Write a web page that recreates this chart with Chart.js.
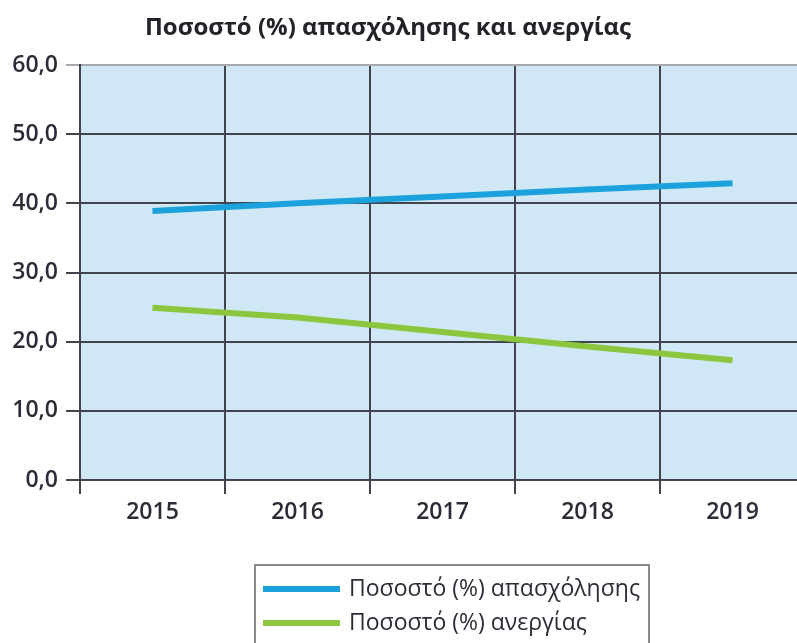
<!DOCTYPE html>
<html>
<head>
<meta charset="utf-8">
<script src="https://cdn.jsdelivr.net/npm/chart.js@4"></script>
<style>
  html, body { margin: 0; padding: 0; background: #fff; overflow: hidden; }
  #wrap { width: 806px; height: 643px; }
</style>
</head>
<body>
<div id="wrap"><canvas id="chart"></canvas></div>
<script>
const years = ["2015", "2016", "2017", "2018", "2019"]
const employment = [38.9, 40.0, 41.0, 42.0, 42.9]
const unemployment = [24.9, 23.5, 21.4, 19.3, 17.3]
const titleText = "Ποσοστό (%) απασχόλησης και ανεργίας"
const seriesLabels = ["Ποσοστό (%) απασχόλησης", "Ποσοστό (%) ανεργίας"]

const textColor = '#2b2c37'
const gridColor = '#41444c'
const fontFamily = "'Open Sans', 'Noto Sans', sans-serif"

// light blue plot background
const plotBg = {
    id: 'plotBg',
    beforeDraw(chart) {
        const a = chart.chartArea
        const ctx = chart.ctx
        ctx.save()
        ctx.fillStyle = '#d0e8f6'
        ctx.fillRect(a.left, a.top, a.right - a.left, a.bottom - a.top)
        ctx.restore()
    }
}

// title + boxed legend drawn by hand
const extras = {
    id: 'extras',
    afterDraw(chart) {
        const ctx = chart.ctx
        ctx.save()
        ctx.fillStyle = '#222229'
        ctx.font = "bold 24px " + fontFamily
        ctx.textAlign = 'center'
        ctx.textBaseline = 'middle'
        ctx.fillText(titleText, 388, 28)

        ctx.strokeStyle = '#8a8a8a'
        ctx.lineWidth = 2
        ctx.strokeRect(255, 565, 394, 100)

        ctx.font = "23px " + fontFamily
        ctx.textAlign = 'left'
        chart.data.datasets.forEach((ds, i) => {
            const y = 589 + i * 34
            ctx.strokeStyle = ds.borderColor
            ctx.lineWidth = 6
            ctx.beginPath()
            ctx.moveTo(263, y)
            ctx.lineTo(340, y)
            ctx.stroke()
            ctx.fillStyle = textColor
            ctx.fillText(ds.label, 349, y)
        })
        ctx.restore()
    }
}

new Chart(document.getElementById('chart'), {
    type: 'line',
    data: {
        labels: years,
        datasets: [
            { label: seriesLabels[0], data: employment, borderColor: '#1ba1dc', borderWidth: 6, pointRadius: 0, tension: 0 },
            { label: seriesLabels[1], data: unemployment, borderColor: '#8cc63f', borderWidth: 6, pointRadius: 0, tension: 0 }
        ]
    },
    options: {
        responsive: true,
        maintainAspectRatio: false,
        animation: false,
        layout: { padding: { top: 65, left: 0, right: 1, bottom: 0 } },
        scales: {
            x: {
                offset: true,
                afterFit: (s) => { s.height = 163 },
                grid: { offset: true, color: gridColor, lineWidth: 2, tickLength: 14 },
                border: { color: gridColor, width: 2 },
                ticks: { color: textColor, padding: 5, font: { family: fontFamily, size: 23, weight: '600' } }
            },
            y: {
                min: 0,
                max: 60,
                afterFit: (s) => { s.width = 80 },
                grid: {
                    color: (c) => c.tick && c.tick.value === 60 ? '#a6a9ad' : gridColor,
                    lineWidth: 2,
                    tickLength: 14
                },
                border: { color: gridColor, width: 2 },
                ticks: {
                    stepSize: 10,
                    color: textColor,
                    padding: 8,
                    font: { family: fontFamily, size: 23, weight: '600' },
                    callback: (v) => v.toFixed(1).replace('.', ',')
                }
            }
        },
        plugins: {
            legend: { display: false },
            title: { display: false },
            tooltip: { enabled: false }
        }
    },
    plugins: [plotBg, extras]
})
</script>
</body>
</html>
